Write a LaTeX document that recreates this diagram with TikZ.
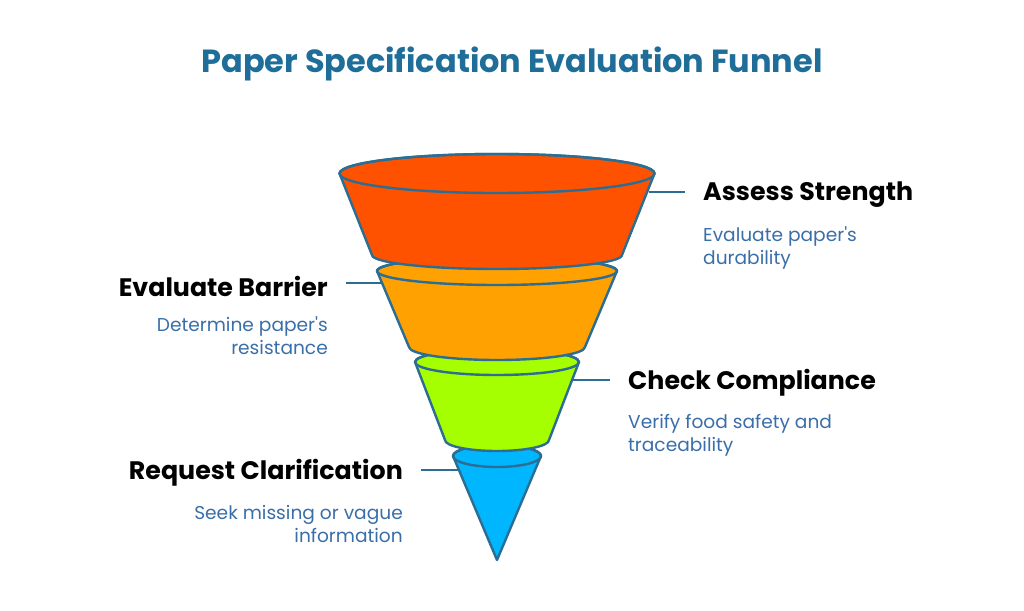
\documentclass[tikz,border=0pt]{standalone}
\usepackage{fontspec}
\setmainfont{Poppins}
\usepackage{tikz}
\usetikzlibrary{positioning, calc}
\definecolor{titleblue}{HTML}{1F6E9A}
\definecolor{edgeblue}{HTML}{2C6D93}
\definecolor{descblue}{HTML}{3A6EA9}
\definecolor{layerred}{HTML}{FF5200}
\definecolor{layerorange}{HTML}{FFA100}
\definecolor{layergreen}{HTML}{A6FF00}
\definecolor{layerblue}{HTML}{00B6FF}

\begin{document}
\begin{tikzpicture}[x=1pt, y=-1pt,
        layer/.style={draw=edgeblue, line width=2.4pt, line join=round},
        tick/.style={draw=edgeblue, line width=2pt},
        head/.style={font=\fontsize{25.3}{29}\selectfont\bfseries, inner sep=0},
        desc/.style={font=\fontsize{18.6}{23}\selectfont, text=descblue, inner sep=0}]
    \useasboundingbox (0,0) rectangle (1024,610);
    \node[font=\fontsize{32}{38}\selectfont\bfseries, text=titleblue] (title) at (512,64) {Paper Specification Evaluation Funnel};

    % cone at the bottom
    \filldraw[layer, fill=layerblue] (453,456) -- (497,560) -- (541,456)
        arc[start angle=0, end angle=180, x radius=44pt, y radius=11pt] -- cycle;
    \draw[layer] (497,456) ellipse [x radius=44pt, y radius=11pt];

    % the three cut rings, bottom one first
    \foreach \col/\yt/\rt/\st/\yb/\rb/\sb in {layergreen/362/82/13/440/52/11,
            layerorange/271/120/14/347/88/13, layerred/173.5/157.5/19.5/255/125/14} {
        \filldraw[layer, fill=\col] ({497-\rt},\yt) -- ({497-\rb},\yb)
            arc[start angle=180, end angle=360, x radius=\rb pt, y radius=\sb pt]
            -- ({497+\rt},\yt)
            arc[start angle=0, end angle=180, x radius=\rt pt, y radius=\st pt] -- cycle;
        \draw[layer] (497,\yt) ellipse [x radius=\rt pt, y radius=\st pt];
    }

    % where the ticks leave the funnel
    \coordinate (e-strength) at (649,192);
    \coordinate (e-barrier) at (381,283);
    \coordinate (e-compliance) at (573,380);
    \coordinate (e-clarify) at (459,470);

    % Assess Strength
    \node[head, anchor=west] (strength) at (703,195) {Assess Strength};
    \node[desc, align=left, anchor=north west] (strength-d) at (703,226) {Evaluate paper\textquotesingle s\\durability};
    \draw[tick] (e-strength) -- ([xshift=-18pt]strength.west |- e-strength);

    % Evaluate Barrier
    \node[head, anchor=east] (barrier) at (328,286) {Evaluate Barrier};
    \node[desc, align=right, anchor=north east] (barrier-d) at (328,316) {Determine paper\textquotesingle s\\resistance};
    \draw[tick] (e-barrier) -- ([xshift=18pt]barrier.east |- e-barrier);

    % Check Compliance
    \node[head, anchor=west] (compliance) at (628,383) {Check Compliance};
    \node[desc, align=left, anchor=north west] (compliance-d) at (628,414) {Verify food safety and\\traceability};
    \draw[tick] (e-compliance) -- ([xshift=-18pt]compliance.west |- e-compliance);

    % Request Clarification
    \node[head, anchor=east] (clarify) at (403,473) {Request Clarification};
    \node[desc, align=right, anchor=north east] (clarify-d) at (403,505) {Seek missing or vague\\information};
    \draw[tick] (e-clarify) -- ([xshift=18pt]clarify.east |- e-clarify);
\end{tikzpicture}
\end{document}
